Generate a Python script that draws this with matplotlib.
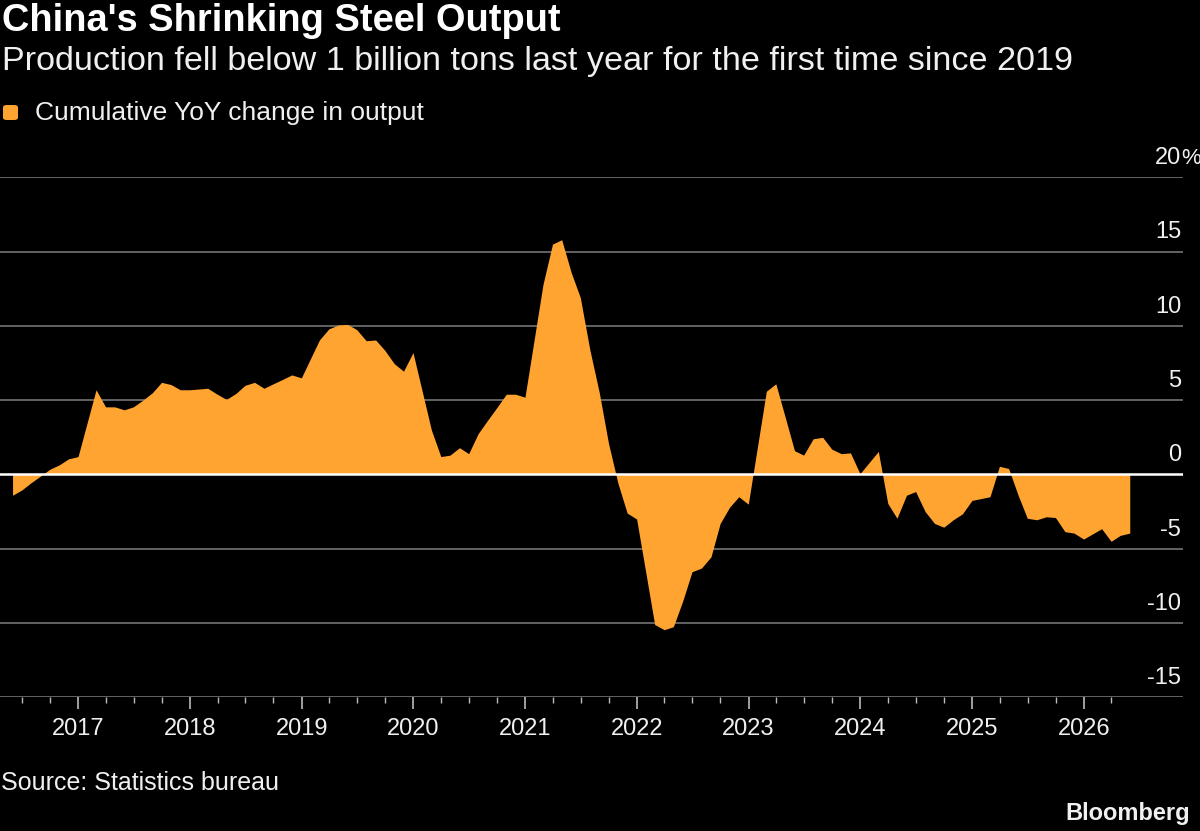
import matplotlib
matplotlib.use("Agg")
import matplotlib.pyplot as plt
import matplotlib.dates as mdates
from matplotlib.patches import FancyBboxPatch
import pandas as pd

# Cumulative year-on-year change in China's crude steel output (%), month-end,
# January is reported together with February so it has no point of its own.
months = [
    "2016-05", "2016-06", "2016-07", "2016-08", "2016-09", "2016-10", "2016-11", "2016-12",
    "2017-02", "2017-03", "2017-04", "2017-05", "2017-06", "2017-07", "2017-08", "2017-09",
    "2017-10", "2017-11", "2017-12",
    "2018-02", "2018-03", "2018-04", "2018-05", "2018-06", "2018-07", "2018-08", "2018-09",
    "2018-10", "2018-11", "2018-12",
    "2019-02", "2019-03", "2019-04", "2019-05", "2019-06", "2019-07", "2019-08", "2019-09",
    "2019-10", "2019-11", "2019-12",
    "2020-02", "2020-03", "2020-04", "2020-05", "2020-06", "2020-07", "2020-08", "2020-09",
    "2020-10", "2020-11", "2020-12",
    "2021-02", "2021-03", "2021-04", "2021-05", "2021-06", "2021-07", "2021-08", "2021-09",
    "2021-10", "2021-11", "2021-12",
    "2022-02", "2022-03", "2022-04", "2022-05", "2022-06", "2022-07", "2022-08", "2022-09",
    "2022-10", "2022-11", "2022-12",
    "2023-02", "2023-03", "2023-04", "2023-05", "2023-06", "2023-07", "2023-08", "2023-09",
    "2023-10", "2023-11", "2023-12",
    "2024-02", "2024-03", "2024-04", "2024-05", "2024-06", "2024-07", "2024-08", "2024-09",
    "2024-10", "2024-11", "2024-12",
    "2025-02", "2025-03", "2025-04", "2025-05", "2025-06", "2025-07", "2025-08", "2025-09",
    "2025-10", "2025-11", "2025-12",
    "2026-02", "2026-03", "2026-04", "2026-05",
]
yoy_change = [
    -1.4, -1.05, -0.55, -0.1, 0.35, 0.65, 1.05, 1.2,
    5.7, 4.55, 4.55, 4.35, 4.55, 5.0, 5.5, 6.2, 6.05, 5.7, 5.7,
    5.8, 5.4, 5.05, 5.45, 6.0, 6.2, 5.8, 6.1, 6.4, 6.7, 6.5,
    9.05, 9.8, 10.05, 10.1, 9.75, 9.0, 9.05, 8.35, 7.45, 6.95, 8.2,
    3.0, 1.2, 1.3, 1.8, 1.4, 2.75, 3.65, 4.5, 5.4, 5.4, 5.2,
    12.8, 15.5, 15.8, 13.6, 11.9, 8.4, 5.5, 2.1, -0.6, -2.6, -3.0,
    -10.1, -10.45, -10.25, -8.5, -6.55, -6.3, -5.55, -3.3, -2.2, -1.5, -2.0,
    5.6, 6.1, 3.9, 1.6, 1.3, 2.4, 2.5, 1.7, 1.4, 1.45, 0.05,
    1.55, -1.95, -2.95, -1.4, -1.15, -2.5, -3.3, -3.55, -3.05, -2.65, -1.75,
    -1.5, 0.55, 0.4, -1.4, -2.95, -3.05, -2.85, -2.9, -3.85, -3.95, -4.35,
    -3.65, -4.5, -4.1, -3.95,
]
y_ticks = [-15, -10, -5, 0, 5, 10, 15, 20]

ORANGE = "#FFA431"
GRID = "#6b6b6b"
TEXT = "#f0f0f0"
FONT = "Liberation Sans"

plt.rcParams["font.family"] = [FONT, "DejaVu Sans"]

dates = pd.to_datetime(months) + pd.offsets.MonthEnd(0)

W, H = 1200, 831
fig = plt.figure(figsize=(W / 100, H / 100), dpi=100, facecolor="black")
ax = fig.add_axes([0, (H - 697.3) / H, 1183 / W, (697.3 - 177.3) / H])
ax.set_facecolor("black")

# gridlines sit under the area, zero line on top
for v in y_ticks:
    if v != 0:
        ax.axhline(v, color=GRID, lw=1.3, zorder=1)
ax.fill_between(dates, yoy_change, 0, color=ORANGE, lw=0, interpolate=True, zorder=2)
ax.axhline(0, color="white", lw=1.8, zorder=3)

ax.set_ylim(-15, 20)
ax.set_xlim(pd.Timestamp("2016-04-20"), pd.Timestamp("2026-11-21"))

for s in ax.spines.values():
    s.set_visible(False)
ax.set_yticks([])

ax.xaxis.set_major_locator(mdates.YearLocator())
ax.xaxis.set_major_formatter(mdates.DateFormatter("%Y"))
minor = pd.date_range("2016-07-01", "2026-04-01", freq="QS")
ax.set_xticks(minor, minor=True)
ax.tick_params(axis="x", which="major", length=8.6, width=1.2, color="#bbbbbb",
               labelsize=17, labelcolor=TEXT, pad=6)
ax.tick_params(axis="x", which="minor", length=4.3, width=1.0, color="#bbbbbb")

# value labels above each gridline, right aligned, percent sign hanging out
lab_tr = ax.get_yaxis_transform()
for v in y_ticks:
    ax.text(0.9985, v + 0.55, f"{v}", transform=lab_tr, ha="right", va="bottom",
            fontsize=17, color=TEXT, clip_on=False)
ax.text(0.9985, 20 + 0.55, "%", transform=lab_tr, ha="left", va="bottom",
        fontsize=16, color=TEXT, clip_on=False)

# header
fig.text(2 / W, 1 - 31 / H, "China's Shrinking Steel Output", fontsize=27.4,
         fontweight="bold", color="white", va="baseline")
fig.text(2 / W, 1 - 70 / H,
         "Production fell below 1 billion tons last year for the first time since 2019",
         fontsize=24.6, color=TEXT, va="baseline")
fig.patches.append(FancyBboxPatch((3 / W, 1 - 120 / H), 15 / W, 15 / H,
                                  boxstyle="round,pad=0,rounding_size=0.003",
                                  transform=fig.transFigure, fc=ORANGE, ec="none"))
fig.text(35 / W, 1 - 120 / H, "Cumulative YoY change in output", fontsize=19,
         color=TEXT, va="baseline")

# footer
fig.text(1 / W, 1 - 790 / H, "Source: Statistics bureau", fontsize=18,
         color=TEXT, va="baseline")
fig.text(1190 / W, 1 - 820 / H, "Bloomberg", fontsize=17, fontweight="bold",
         color=TEXT, ha="right", va="baseline")

fig.savefig("out.png", dpi=100, facecolor="black")
